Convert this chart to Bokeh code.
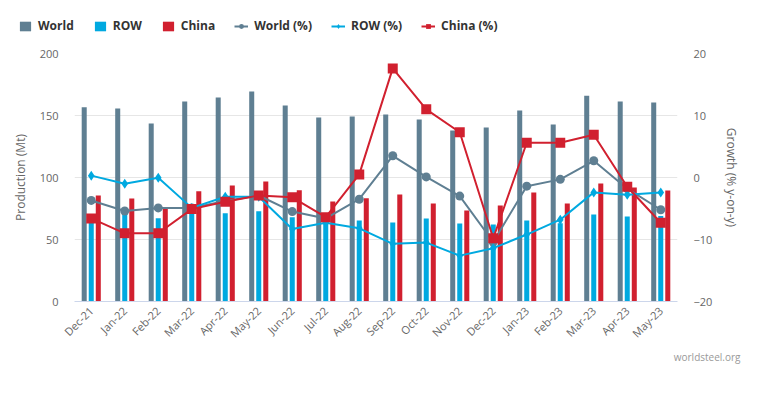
import math
from bokeh.plotting import figure
from bokeh.models import (ColumnDataSource, FactorRange, Range1d, LinearAxis, Legend,
                          LegendItem, Label, FixedTicker)
from bokeh.layouts import column, row
from bokeh.transform import dodge
from bokeh.embed import file_html
from bokeh.resources import INLINE

months = ["Dec-21", "Jan-22", "Feb-22", "Mar-22", "Apr-22", "May-22", "Jun-22", "Jul-22",
          "Aug-22", "Sep-22", "Oct-22", "Nov-22", "Dec-22", "Jan-23", "Feb-23", "Mar-23",
          "Apr-23", "May-23"]
world = [156.7, 155.6, 143.5, 161.3, 164.5, 169.4, 158.0, 148.4, 149.2, 150.8, 146.8, 137.9,
         140.3, 154.0, 142.7, 166.0, 161.3, 160.5]
row_vals = [65.3, 72.0, 67.2, 74.0, 71.2, 72.8, 68.0, 65.0, 65.3, 63.7, 67.0, 62.9, 62.0, 65.3,
            63.2, 70.2, 68.5, 69.0]
china = [85.5, 83.0, 74.5, 89.0, 93.5, 96.8, 89.8, 80.6, 83.3, 86.3, 79.0, 73.4, 77.4, 87.9,
         79.0, 95.2, 91.9, 89.5]
world_pct = [-3.7, -5.4, -4.9, -4.9, -3.8, -2.9, -5.5, -6.6, -3.5, 3.5, 0.1, -3.0, -10.4,
             -1.4, -0.3, 2.7, -1.8, -5.2]
row_pct = [0.3, -1.0, -0.05, -4.9, -3.1, -3.1, -8.3, -7.3, -8.2, -10.7, -10.5, -12.6, -11.4,
           -9.2, -6.8, -2.4, -2.8, -2.4]
china_pct = [-6.6, -9.0, -9.0, -5.1, -3.9, -2.9, -3.2, -6.4, 0.5, 17.6, 11.0, 7.3, -9.8,
             5.6, 5.6, 6.9, -1.5, -7.3]

C_WORLD = "#5f7f92"
C_ROW = "#00a9e0"
C_CHINA = "#d1202f"
FONT = "Open Sans"
W = 753

src = ColumnDataSource(dict(month=months, world=world, row=row_vals, china=china,
                            world_pct=world_pct, row_pct=row_pct, china_pct=china_pct))

# ---------------- main chart ----------------
p = figure(width=W, height=316, x_range=FactorRange(factors=months),
           y_range=Range1d(0, 200), output_backend="svg", toolbar_location=None,
           min_border_left=74, min_border_right=76, min_border_top=13, min_border_bottom=55)
p.extra_y_ranges = {"g": Range1d(-20, 20)}
p.outline_line_color = None
p.background_fill_color = "white"
p.xgrid.grid_line_color = None
p.ygrid.grid_line_color = "#e6e6e6"
p.ygrid.ticker = FixedTicker(ticks=[0, 50, 100, 150, 200])

bw = 0.15
p.vbar(x=dodge("month", -0.21, range=p.x_range), top="world", width=bw, source=src,
       color=C_WORLD, line_color=None)
p.vbar(x=dodge("month", 0.0, range=p.x_range), top="row", width=bw, source=src,
       color=C_ROW, line_color=None)
p.vbar(x=dodge("month", 0.21, range=p.x_range), top="china", width=bw, source=src,
       color=C_CHINA, line_color=None)

p.line("month", "world_pct", source=src, y_range_name="g", color=C_WORLD, line_width=2)
p.scatter("month", "world_pct", source=src, y_range_name="g", marker="circle", size=9,
          color=C_WORLD, line_color=None)
p.line("month", "row_pct", source=src, y_range_name="g", color=C_ROW, line_width=2)
p.scatter("month", "row_pct", source=src, y_range_name="g", marker="diamond", size=10,
          color=C_ROW, line_color=None)
p.line("month", "china_pct", source=src, y_range_name="g", color=C_CHINA, line_width=2)
p.scatter("month", "china_pct", source=src, y_range_name="g", marker="square", size=10,
          color=C_CHINA, line_color=None)

p.xaxis.major_label_orientation = math.pi / 4
p.xaxis.major_label_text_font = FONT
p.xaxis.major_label_text_font_size = "11px"
p.xaxis.major_label_text_color = "#666666"
p.xaxis.axis_line_color = "#ccd6eb"
p.xaxis.major_tick_line_color = None
p.xaxis.minor_tick_line_color = None
p.xaxis.major_tick_in = 0
p.xaxis.major_tick_out = 0
p.xaxis.major_label_standoff = 7

p.yaxis.ticker = FixedTicker(ticks=[0, 50, 100, 150, 200])
p.yaxis.axis_label = "Production (Mt)"
p.yaxis.axis_line_color = None
p.yaxis.major_tick_line_color = None
p.yaxis.minor_tick_line_color = None
p.yaxis.major_tick_in = 0
p.yaxis.major_tick_out = 0
p.yaxis.major_label_text_font = FONT
p.yaxis.major_label_text_font_size = "11px"
p.yaxis.major_label_text_color = "#666666"
p.yaxis.axis_label_text_font = FONT
p.yaxis.axis_label_text_font_size = "12px"
p.yaxis.axis_label_text_font_style = "normal"
p.yaxis.axis_label_text_color = "#666666"
p.yaxis.major_label_standoff = 16
p.yaxis.axis_label_standoff = 8

ax2 = LinearAxis(y_range_name="g", ticker=FixedTicker(ticks=[-20, -10, 0, 10, 20]),
                 axis_label="Growth (% y-on-y)")
ax2.axis_line_color = None
ax2.major_tick_line_color = None
ax2.minor_tick_line_color = None
ax2.major_tick_in = 0
ax2.major_tick_out = 0
ax2.major_label_text_font = FONT
ax2.major_label_text_font_size = "11px"
ax2.major_label_text_color = "#666666"
ax2.axis_label_text_font = FONT
ax2.axis_label_text_font_size = "12px"
ax2.axis_label_text_font_style = "normal"
ax2.axis_label_text_color = "#666666"
ax2.major_label_standoff = 16
ax2.axis_label_standoff = 8
p.add_layout(ax2, "right")

# ---------------- legend strip ----------------
pl = figure(width=W, height=40, x_range=Range1d(0, 1), y_range=Range1d(0, 1),
            x_axis_location=None, y_axis_location=None,
            output_backend="svg", toolbar_location=None, min_border=0,
            min_border_left=0, min_border_right=0, min_border_top=0, min_border_bottom=0)
pl.grid.grid_line_color = None
pl.outline_line_color = None
e = ColumnDataSource(dict(x=[-10.0], y=[-10.0]))
d_w = pl.vbar(x="x", top="y", width=0.1, source=e, color=C_WORLD, line_color=None)
d_r = pl.vbar(x="x", top="y", width=0.1, source=e, color=C_ROW, line_color=None)
d_c = pl.vbar(x="x", top="y", width=0.1, source=e, color=C_CHINA, line_color=None)
d_lw = pl.line("x", "y", source=e, color=C_WORLD, line_width=2)
d_mw = pl.scatter("x", "y", source=e, marker="circle", size=9, color=C_WORLD, line_color=None)
d_lr = pl.line("x", "y", source=e, color=C_ROW, line_width=2)
d_mr = pl.scatter("x", "y", source=e, marker="diamond", size=10, color=C_ROW, line_color=None)
d_lc = pl.line("x", "y", source=e, color=C_CHINA, line_width=2)
d_mc = pl.scatter("x", "y", source=e, marker="square", size=10, color=C_CHINA, line_color=None)

legend = Legend(items=[
    LegendItem(label="World", renderers=[d_w]),
    LegendItem(label="ROW", renderers=[d_r]),
    LegendItem(label="China", renderers=[d_c]),
    LegendItem(label="World (%)", renderers=[d_lw, d_mw]),
    LegendItem(label="ROW (%)", renderers=[d_lr, d_mr]),
    LegendItem(label="China (%)", renderers=[d_lc, d_mc]),
], orientation="horizontal", location=(18, 6))
legend.background_fill_alpha = 0
legend.border_line_color = None
legend.padding = 0
legend.margin = 0
legend.spacing = 19
legend.glyph_width = 14
legend.glyph_height = 12
legend.label_standoff = 6
legend.label_text_font = FONT
legend.label_text_font_size = "12px"
legend.label_text_font_style = "bold"
legend.label_text_color = "#333333"
pl.add_layout(legend, "center")

# ---------------- credit strip ----------------
pc = figure(width=W, height=30, x_range=Range1d(0, 1), y_range=Range1d(0, 1),
            x_axis_location=None, y_axis_location=None,
            output_backend="svg", toolbar_location=None, min_border=0,
            min_border_left=0, min_border_right=0, min_border_top=0, min_border_bottom=0)
pc.grid.grid_line_color = None
pc.outline_line_color = None
pc.add_layout(Label(x=740, y=16, x_units="screen", y_units="screen", text="worldsteel.org",
                    text_font=FONT, text_font_size="10px", text_color="#999999",
                    text_align="right", text_baseline="middle"))

top_box = row(pl)
bottom_box = row(pc)
bottom_box.margin = (-14, 0, 0, 0)
layout = column(top_box, p, bottom_box, spacing=0)
open("out.html", "w").write(file_html(layout, INLINE))
